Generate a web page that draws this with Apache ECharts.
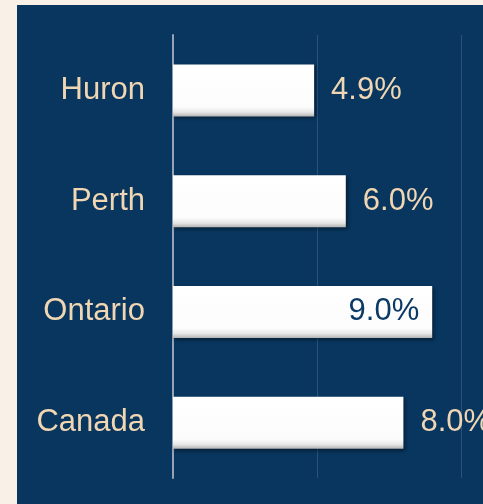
<!DOCTYPE html>
<html>
<head>
<meta charset="utf-8">
<style>
html,body{margin:0;padding:0;background:#f9f0e7;}
#chart{width:483px;height:504px;}
</style>
<script src="https://cdn.jsdelivr.net/npm/echarts@6/dist/echarts.min.js"></script>
</head>
<body>
<div id="chart"></div>
<script>
var categories = ['Huron', 'Perth', 'Ontario', 'Canada'];
var values = [4.9, 6.0, 9.0, 8.0];
var insideLabels = [false, false, true, false];

var chart = echarts.init(document.getElementById('chart'));
var navy = '#08365f';
var beige = '#f0d6b2';

var barData = values.map(function (v, i) {
  var item = { value: v };
  if (insideLabels[i]) {
    item.label = { position: 'insideRight', distance: 13, color: '#0b3a66' };
  }
  return item;
});

chart.setOption({
  backgroundColor: '#f9f0e7',
  animation: false,
  graphic: [{
    type: 'rect', z: -10, silent: true,
    shape: { x: 17, y: 5, width: 470, height: 502 },
    style: { fill: navy }
  }],
  grid: { left: 173, right: 22, top: 35, bottom: 26, containLabel: false },
  xAxis: {
    type: 'value', min: 0, max: 10, interval: 5,
    axisLabel: { show: false },
    axisLine: { show: false },
    axisTick: { show: false },
    splitLine: { show: true, lineStyle: { color: '#2d5280', width: 1 } }
  },
  yAxis: {
    type: 'category', inverse: true, data: categories,
    axisLine: { show: true, onZero: false, lineStyle: { color: '#95a3b4', width: 2 } },
    axisTick: { show: false },
    axisLabel: { color: beige, fontSize: 31, fontFamily: 'Liberation Sans, Arial, sans-serif', margin: 28 }
  },
  series: [{
    type: 'bar',
    data: barData,
    barWidth: 52,
    itemStyle: {
      color: {
        type: 'linear', x: 0, y: 0, x2: 0, y2: 1,
        colorStops: [
          { offset: 0, color: '#ffffff' },
          { offset: 0.82, color: '#fcfcfc' },
          { offset: 0.92, color: '#e6e6e6' },
          { offset: 1, color: '#b5b5b5' }
        ]
      },
      shadowColor: 'rgba(0,0,0,0.45)',
      shadowBlur: 4,
      shadowOffsetX: 2,
      shadowOffsetY: 2
    },
    label: {
      show: true, position: 'right', distance: 17,
      color: beige, fontSize: 31, fontFamily: 'Liberation Sans, Arial, sans-serif',
      formatter: function (p) { return p.value.toFixed(1) + '%'; }
    }
  }]
});
</script>
</body>
</html>
